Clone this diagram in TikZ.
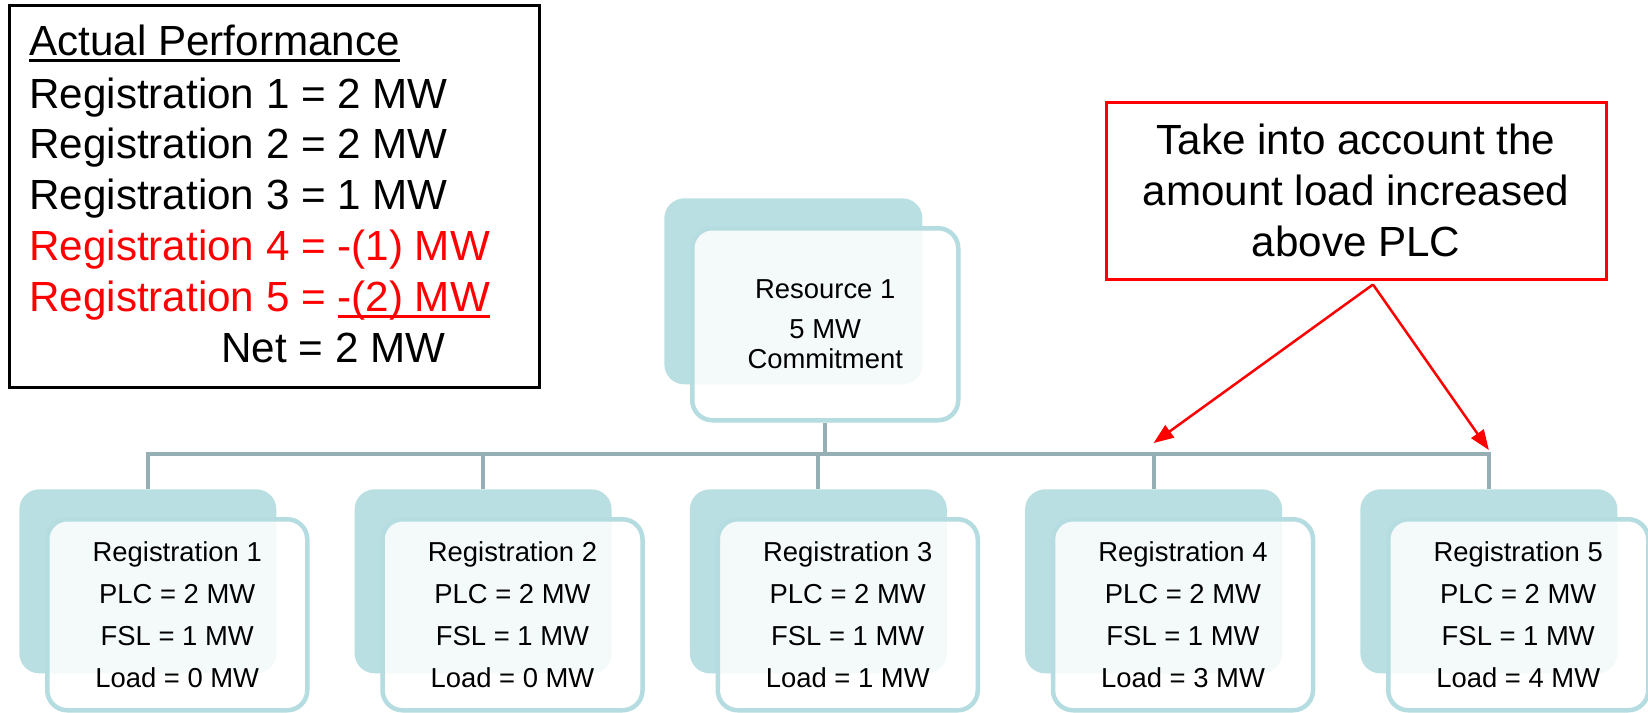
\documentclass[tikz,border=0pt]{standalone}
\usepackage{fontspec}
\setmainfont{Liberation Sans}
\usetikzlibrary{arrows.meta,positioning,calc}
\definecolor{tealbk}{HTML}{B9DFE2}
\definecolor{tealln}{HTML}{B5DCE0}
\definecolor{linkc}{HTML}{95AFB4}
\definecolor{hired}{HTML}{FF0000}
\newcommand{\uln}[1]{\setbox0\hbox{#1}\rlap{\rule[-0.12cm]{\wd0}{0.05cm}}\box0}

\begin{document}
\begin{tikzpicture}[>=Latex,
  backcard/.style={fill=tealbk, rounded corners=0.4cm, anchor=north west, inner sep=0pt, minimum width=5.14cm, minimum height=3.68cm},
  card/.style={draw=tealln, line width=0.09cm, fill=white, fill opacity=0.85, text opacity=1, rounded corners=0.4cm, anchor=north west, align=center, minimum width=5.2cm, minimum height=3.82cm, font=\fontsize{15.6}{23.9}\selectfont},
  link/.style={draw=linkc, line width=0.08cm},
  pointer/.style={-{Triangle[length=0.4cm,width=0.3cm]}, hired, line width=0.05cm},
  perfline/.style={anchor=base west, inner sep=0pt, font=\fontsize{24}{29}\selectfont}]
\fill[white] (0,0) rectangle (32.96,-14.26);
\useasboundingbox (0,0) rectangle (32.96,-14.26);
% summary of actual performance
\node[draw=black, line width=0.06cm, anchor=north west, minimum width=10.6cm, minimum height=7.64cm] (perf) at (0.16,-0.08) {};
\node[perfline] (ttl) at (0.58,-1.12) {\uln{Actual Performance}};
\foreach \yy/\lab/\col in {-2.16/Registration 1 = 2 MW/black,-3.17/Registration 2 = 2 MW/black,-4.19/Registration 3 = 1 MW/black,-5.21/Registration 4 = -(1) MW/hired,-6.23/Registration 5 = \uln{-(2) MW}/hired}{\node[perfline,text=\col] at (0.58,\yy) {\lab};}
\node[perfline] (net) at (4.42,-7.25) {Net = 2 MW};
% resource and registrations
\node[backcard, minimum width=5.16cm, minimum height=3.72cm] (resb) at (13.28,-3.96) {};
\node[card, minimum width=5.32cm, minimum height=3.84cm, font=\fontsize{15.6}{17.1}\selectfont] (res) at ($(resb.north west)+(0.52,-0.56)$) {Resource 1\\[0.2cm]5 MW\\Commitment};
\foreach \i/\ld in {1/0,2/0,3/1,4/3,5/4}{
  \node[backcard] (b\i) at ({0.38+6.705*(\i-1)},-9.78) {};
  \node[card] (r\i) at ($(b\i.north west)+(0.52,-0.56)$) {Registration \i\\PLC = 2 MW\\FSL = 1 MW\\Load = \ld{} MW};
}
\coordinate (bus) at (0,-9.08);
\draw[link] (res.south) -- (res.south |- bus);
\draw[link] (b1.north) -- (b1.north |- bus) -- (b5.north |- bus) -- (b5.north);
\foreach \i in {2,3,4}{\draw[link] (b\i.north |- bus) -- (b\i.north);}
% callout
\node[draw=hired, line width=0.06cm, minimum width=10cm, minimum height=3.54cm, align=center, font=\fontsize{24}{29}\selectfont] (note) at (27.12,-3.81) {Take into account the\\amount load increased\\above PLC};
\coordinate (apex) at ([xshift=0.34cm,yshift=-0.08cm]note.south);
\coordinate (hit4) at ($(b4.north |- bus)+(0,0.22)$);
\coordinate (hit5) at ($(b5.north |- bus)+(0,0.08)$);
\draw[pointer] (apex) -- (hit4);
\draw[pointer] (apex) -- (hit5);
\end{tikzpicture}
\end{document}
